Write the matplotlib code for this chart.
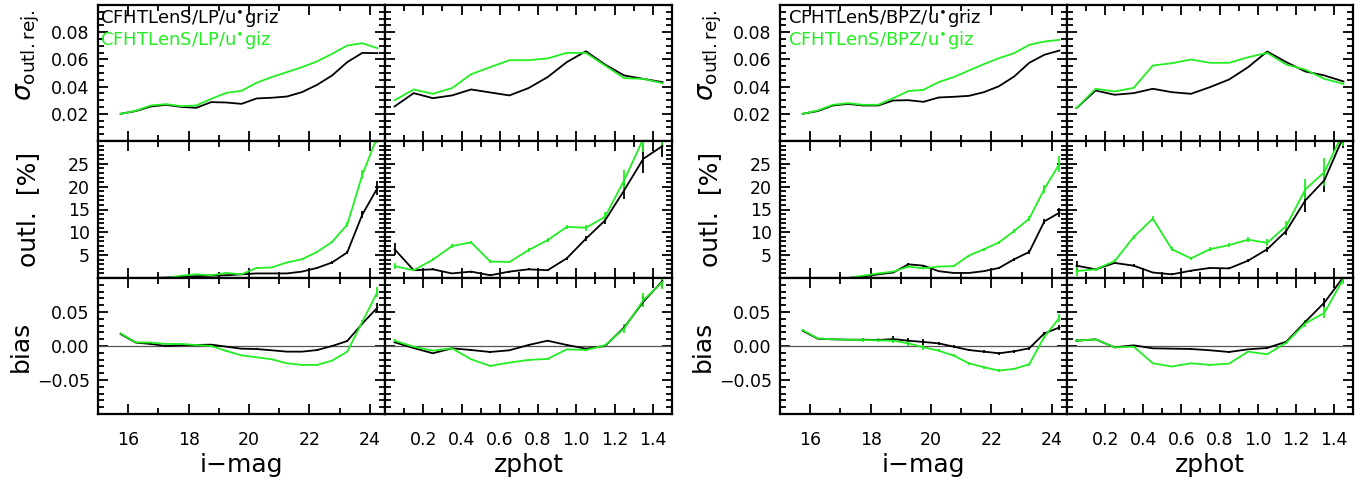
import matplotlib.pyplot as plt
from matplotlib.ticker import MultipleLocator

plt.rcParams['font.family'] = ['DejaVu Sans']
plt.rcParams['mathtext.fontset'] = 'dejavusans'

GREEN = '#22ee22'

# bin centres
mag = [15.75, 16.25, 16.75, 17.25, 17.75, 18.25, 18.75, 19.25, 19.75,
       20.25, 20.75, 21.25, 21.75, 22.25, 22.75, 23.25, 23.75, 24.25]
zph = [0.05, 0.15, 0.25, 0.35, 0.45, 0.55, 0.65, 0.75, 0.85, 0.95,
       1.05, 1.15, 1.25, 1.35, 1.45]

# ---- CFHTLenS / LP ----
lp_sig_mag_griz = [0.020, 0.022, 0.0254, 0.0266, 0.0251, 0.0244, 0.0286, 0.0283, 0.0273,
                   0.0313, 0.0318, 0.0327, 0.0359, 0.0413, 0.0482, 0.058, 0.0648, 0.0646]
lp_sig_mag_giz = [0.020, 0.0222, 0.0261, 0.0271, 0.0256, 0.0261, 0.031, 0.0354, 0.0369,
                  0.0428, 0.047, 0.0506, 0.0543, 0.0585, 0.0641, 0.0702, 0.0719, 0.0682]
lp_sig_z_griz = [0.0254, 0.0352, 0.0315, 0.0335, 0.0379, 0.0357, 0.0335, 0.0389,
                 0.047, 0.058, 0.066, 0.0562, 0.0482, 0.0457, 0.0433]
lp_sig_z_giz = [0.030, 0.0379, 0.0347, 0.0389, 0.0491, 0.0543, 0.0594, 0.0594,
                0.0607, 0.0648, 0.0648, 0.0555, 0.0462, 0.0457, 0.0425]

lp_out_mag_griz = [0, 0, 0, 0.1, 0.3, 0.4, 0.5, 0.6, 0.8, 1.0, 1.0, 1.0, 1.4, 2.2, 3.4, 5.6, 13.9, 19.7]
lp_out_mag_giz = [0, 0, 0, 0, 0.5, 0.8, 0.6, 1.1, 0.8, 2.2, 2.3, 3.4, 4.1, 5.7, 7.9, 11.7, 22.6, 31.0]
lp_out_z_griz = [6.3, 1.7, 1.9, 1.0, 1.4, 0.6, 1.4, 1.9, 1.7, 4.3, 8.6, 12.6, 19.2, 26.1, 28.9]
lp_out_z_giz = [2.6, 1.7, 4.0, 7.0, 7.8, 3.6, 3.5, 6.1, 8.3, 11.2, 11.0, 13.4, 21.4, 30.5, 32.0]
lp_out_mag_griz_err = [0, 0, 0, 0, 0, 0, 0, 0, 0, 0.1, 0.1, 0.1, 0.1, 0.2, 0.3, 0.4, 0.8, 1.5]
lp_out_mag_giz_err = [0, 0, 0, 0, 0.1, 0.1, 0.2, 0.2, 0.1, 0.2, 0.2, 0.2, 0.2, 0.3, 0.3, 0.5, 1.0, 1.5]
lp_out_z_griz_err = [1.3, 0.2, 0.2, 0.2, 0.2, 0.2, 0.2, 0.2, 0.2, 0.3, 0.5, 0.7, 2.0, 3.0, 2.5]
lp_out_z_giz_err = [0.7, 0.2, 0.3, 0.4, 0.3, 0.3, 0.3, 0.4, 0.4, 0.5, 0.6, 1.0, 2.2, 3.0, 3.0]

lp_bias_mag_griz = [0.0176, 0.005, 0.003, 0.0, 0.001, 0.0015, 0.002, -0.001, -0.004,
                    -0.0045, -0.0063, -0.0083, -0.0083, -0.006, 0.0, 0.0073, 0.033, 0.0566]
lp_bias_mag_giz = [0.0185, 0.0054, 0.005, 0.003, 0.003, 0.0015, 0.0, -0.0073, -0.0137,
                   -0.0166, -0.0195, -0.0254, -0.0278, -0.0278, -0.0215, -0.0083, 0.0356, 0.0795]
lp_bias_z_griz = [0.0054, -0.003, -0.0107, -0.0034, -0.0059, -0.0088, -0.0063, 0.0015,
                  0.0078, 0.0015, -0.0039, 0.0, 0.0273, 0.065, 0.0956]
lp_bias_z_giz = [0.0078, -0.001, -0.0068, -0.0034, -0.0195, -0.0293, -0.0244, -0.0205,
                 -0.019, -0.0049, -0.0059, 0.001, 0.0259, 0.0673, 0.094]
lp_bias_mag_griz_err = [0.001, 0.001, 0.001, 0.001, 0.001, 0.001, 0.001, 0.001, 0.001,
                        0.001, 0.001, 0.001, 0.001, 0.001, 0.001, 0.001, 0.002, 0.006]
lp_bias_mag_giz_err = [0.001, 0.001, 0.001, 0.001, 0.001, 0.001, 0.001, 0.001, 0.001,
                       0.001, 0.001, 0.001, 0.001, 0.001, 0.001, 0.001, 0.003, 0.008]
lp_bias_z_griz_err = [0.001, 0.001, 0.001, 0.001, 0.001, 0.001, 0.001, 0.001, 0.001,
                      0.001, 0.001, 0.002, 0.004, 0.008, 0.01]
lp_bias_z_giz_err = [0.002, 0.001, 0.001, 0.001, 0.001, 0.001, 0.001, 0.001, 0.001,
                     0.001, 0.001, 0.002, 0.007, 0.01, 0.01]

# ---- CFHTLenS / BPZ ----
bpz_sig_mag_griz = [0.020, 0.022, 0.0261, 0.0273, 0.0261, 0.0261, 0.0298, 0.030, 0.0288,
                    0.032, 0.0325, 0.0332, 0.0359, 0.0403, 0.0474, 0.0575, 0.0634, 0.0665]
bpz_sig_mag_giz = [0.020, 0.0224, 0.0266, 0.0278, 0.0266, 0.0266, 0.0315, 0.0367, 0.0376,
                   0.0433, 0.047, 0.0518, 0.0565, 0.0609, 0.0646, 0.0707, 0.0731, 0.0744]
bpz_sig_z_griz = [0.0242, 0.0371, 0.034, 0.0352, 0.0384, 0.0359, 0.0347, 0.0396,
                  0.0452, 0.0543, 0.0658, 0.058, 0.0511, 0.0482, 0.0438]
bpz_sig_z_giz = [0.0242, 0.0384, 0.0364, 0.0391, 0.0555, 0.0572, 0.0599, 0.0575,
                 0.0575, 0.0616, 0.0648, 0.0562, 0.0525, 0.0457, 0.042]

bpz_out_mag_griz = [0, 0, 0, 0, 0.3, 0.8, 1.2, 3.0, 2.7, 1.5, 1.1, 1.1, 1.5, 2.2, 4.1, 5.7, 12.4, 14.3]
bpz_out_mag_giz = [0, 0, 0, 0, 0.5, 1.0, 1.4, 2.5, 2.1, 2.5, 2.6, 4.9, 6.3, 7.8, 10.3, 13.0, 19.5, 25.0]
bpz_out_z_griz = [2.7, 1.9, 3.3, 2.7, 1.2, 0.8, 1.6, 2.2, 2.1, 3.8, 6.3, 10.3, 17.0, 21.4, 31.0]
bpz_out_z_giz = [1.5, 1.9, 3.7, 9.0, 13.0, 6.3, 4.3, 6.3, 7.2, 8.4, 7.7, 11.4, 19.4, 23.2, 32.0]
bpz_out_mag_griz_err = [0, 0, 0, 0, 0.1, 0.1, 0.2, 0.3, 0.2, 0.1, 0.1, 0.1, 0.1, 0.2, 0.3, 0.4, 0.6, 1.0]
bpz_out_mag_giz_err = [0, 0, 0, 0, 0.1, 0.2, 0.2, 0.3, 0.2, 0.2, 0.2, 0.2, 0.3, 0.3, 0.4, 0.5, 0.8, 1.8]
bpz_out_z_griz_err = [1.0, 0.2, 0.3, 0.3, 0.2, 0.2, 0.2, 0.2, 0.2, 0.3, 0.5, 0.8, 2.5, 2.5, 2.5]
bpz_out_z_giz_err = [1.0, 0.3, 0.4, 0.5, 0.5, 0.4, 0.4, 0.4, 0.4, 0.5, 0.8, 1.0, 2.2, 3.0, 3.0]

bpz_bias_mag_griz = [0.0224, 0.0107, 0.0098, 0.0093, 0.0093, 0.0088, 0.0102, 0.0078, 0.0059,
                     0.0039, -0.001, -0.0059, -0.0083, -0.0107, -0.0078, -0.0034, 0.0185, 0.0273]
bpz_bias_mag_giz = [0.0234, 0.0112, 0.0098, 0.0093, 0.0088, 0.0083, 0.0078, 0.0039, -0.002,
                    -0.0068, -0.0141, -0.0254, -0.0312, -0.0361, -0.0337, -0.0268, 0.0137, 0.0415]
bpz_bias_z_griz = [0.0078, 0.0098, -0.002, 0.001, -0.0034, -0.0039, -0.0044, -0.0063,
                   -0.0088, -0.0049, -0.0029, 0.0063, 0.0356, 0.0639, 0.1015]
bpz_bias_z_giz = [0.0078, 0.0098, -0.002, -0.001, -0.0254, -0.0302, -0.0254, -0.0278,
                  -0.0259, -0.0083, -0.0122, 0.0049, 0.0332, 0.0488, 0.099]
bpz_bias_mag_griz_err = [0.001, 0.001, 0.001, 0.001, 0.001, 0.001, 0.004, 0.004, 0.004,
                         0.002, 0.002, 0.002, 0.002, 0.002, 0.002, 0.002, 0.002, 0.004]
bpz_bias_mag_giz_err = [0.001, 0.001, 0.001, 0.001, 0.003, 0.003, 0.004, 0.004, 0.004,
                        0.002, 0.002, 0.002, 0.002, 0.002, 0.002, 0.002, 0.003, 0.006]
bpz_bias_z_griz_err = [0.002, 0.001, 0.001, 0.001, 0.001, 0.001, 0.001, 0.001, 0.001,
                       0.001, 0.001, 0.001, 0.003, 0.006, 0.008]
bpz_bias_z_giz_err = [0.002, 0.001, 0.001, 0.001, 0.001, 0.001, 0.001, 0.001, 0.001,
                      0.001, 0.001, 0.002, 0.005, 0.008, 0.008]

mag_ticks = [16, 18, 20, 22, 24]
z_ticks = [0.2, 0.4, 0.6, 0.8, 1.0, 1.2, 1.4]
z_ticklabels = ['0.2', '0.4', '0.6', '0.8', '1.0', '1.2', '1.4']
sig_ticks = [0.02, 0.04, 0.06, 0.08]
sig_ticklabels = ['0.02', '0.04', '0.06', '0.08']
out_ticks = [5, 10, 15, 20, 25]
bias_ticks = [-0.05, 0.0, 0.05]
bias_ticklabels = ['\u22120.05', '0.00', '0.05']

W, H = 1371, 482
fig = plt.figure(figsize=(W / 100, H / 100), dpi=100)

row_px = [5, 141, 278, 414]


def make_axes(x0, x1):
    axs = []
    for r in range(3):
        top, bot = row_px[r], row_px[r + 1]
        axs.append(fig.add_axes([x0 / W, 1 - bot / H, (x1 - x0) / W, (bot - top) / H]))
    return axs


def style(ax):
    for s in ax.spines.values():
        s.set_linewidth(1.6)
    ax.tick_params(which='both', direction='in', top=True, right=True,
                   labelsize=12.5, width=1.3)
    ax.tick_params(which='major', length=7)
    ax.tick_params(which='minor', length=4)
    ax.tick_params(axis='x', pad=12)
    ax.tick_params(axis='y', pad=6)


def curves(ax, x, yb, yg, eb=None, eg=None):
    ax.errorbar(x, yb, yerr=eb, color='black', lw=1.3, elinewidth=1.3, capsize=0)
    ax.errorbar(x, yg, yerr=eg, color=GREEN, lw=1.3, elinewidth=1.3, capsize=0)


def group(x0, xm, x1, name, sig, out, bias, legend_x):
    left = make_axes(x0, xm)
    right = make_axes(xm, x1)

    curves(left[0], mag, sig[0], sig[1])
    curves(right[0], zph, sig[2], sig[3])
    curves(left[1], mag, out[0], out[1], out[4], out[5])
    curves(right[1], zph, out[2], out[3], out[6], out[7])
    left[2].axhline(0, color='#555555', lw=0.9)
    right[2].axhline(0, color='#555555', lw=0.9)
    curves(left[2], mag, bias[0], bias[1], bias[4], bias[5])
    curves(right[2], zph, bias[2], bias[3], bias[6], bias[7])

    for r in range(3):
        la, ra = left[r], right[r]
        style(la)
        style(ra)
        la.set_xlim(15, 24.5)
        la.set_xticks(mag_ticks)
        la.xaxis.set_minor_locator(MultipleLocator(1))
        ra.set_xlim(0, 1.5)
        ra.set_xticks(z_ticks, z_ticklabels)
        ra.xaxis.set_minor_locator(MultipleLocator(0.1))
        if r < 2:
            la.tick_params(labelbottom=False)
            ra.tick_params(labelbottom=False)

    for a in (left[0], right[0]):
        a.set_ylim(0, 0.1)
        a.set_yticks(sig_ticks, sig_ticklabels)
        a.yaxis.set_minor_locator(MultipleLocator(0.005))
    for a in (left[1], right[1]):
        a.set_ylim(0, 30)
        a.set_yticks(out_ticks)
        a.yaxis.set_minor_locator(MultipleLocator(1))
    for a in (left[2], right[2]):
        a.set_ylim(-0.1, 0.1)
        a.set_yticks(bias_ticks, bias_ticklabels)
        a.yaxis.set_minor_locator(MultipleLocator(0.01))
    for a in right:
        a.tick_params(labelleft=False)

    aw = xm - x0
    left[0].set_ylabel(r'$\sigma_{\mathrm{outl.rej.}}$', fontsize=19)
    left[0].yaxis.set_label_coords(-56 / aw, 0.63)
    left[1].set_ylabel('outl.  [%]', fontsize=18)
    left[1].yaxis.set_label_coords(-58 / aw, 0.5)
    left[2].set_ylabel('bias', fontsize=18)
    left[2].yaxis.set_label_coords(-65 / aw, 0.5)
    left[2].set_xlabel('i\u2212mag', fontsize=18, labelpad=3)
    right[2].set_xlabel('zphot', fontsize=18, labelpad=3)

    tx = (legend_x - x0) / aw
    left[0].text(tx, 0.905, name + r'/u$^{\bullet}$griz', transform=left[0].transAxes,
                 fontsize=13, color='black', va='center', ha='left')
    left[0].text(tx, 0.745, name + r'/u$^{\bullet}$giz', transform=left[0].transAxes,
                 fontsize=13, color=GREEN, va='center', ha='left')


group(98, 385, 672, 'CFHTLenS/LP',
      [lp_sig_mag_griz, lp_sig_mag_giz, lp_sig_z_griz, lp_sig_z_giz],
      [lp_out_mag_griz, lp_out_mag_giz, lp_out_z_griz, lp_out_z_giz,
       lp_out_mag_griz_err, lp_out_mag_giz_err, lp_out_z_griz_err, lp_out_z_giz_err],
      [lp_bias_mag_griz, lp_bias_mag_giz, lp_bias_z_griz, lp_bias_z_giz,
       lp_bias_mag_griz_err, lp_bias_mag_giz_err, lp_bias_z_griz_err, lp_bias_z_giz_err],
      100)
group(780, 1067, 1353, 'CFHTLenS/BPZ',
      [bpz_sig_mag_griz, bpz_sig_mag_giz, bpz_sig_z_griz, bpz_sig_z_giz],
      [bpz_out_mag_griz, bpz_out_mag_giz, bpz_out_z_griz, bpz_out_z_giz,
       bpz_out_mag_griz_err, bpz_out_mag_giz_err, bpz_out_z_griz_err, bpz_out_z_giz_err],
      [bpz_bias_mag_griz, bpz_bias_mag_giz, bpz_bias_z_griz, bpz_bias_z_giz,
       bpz_bias_mag_griz_err, bpz_bias_mag_giz_err, bpz_bias_z_griz_err, bpz_bias_z_giz_err],
      788)

fig.savefig('out.png', dpi=100)
